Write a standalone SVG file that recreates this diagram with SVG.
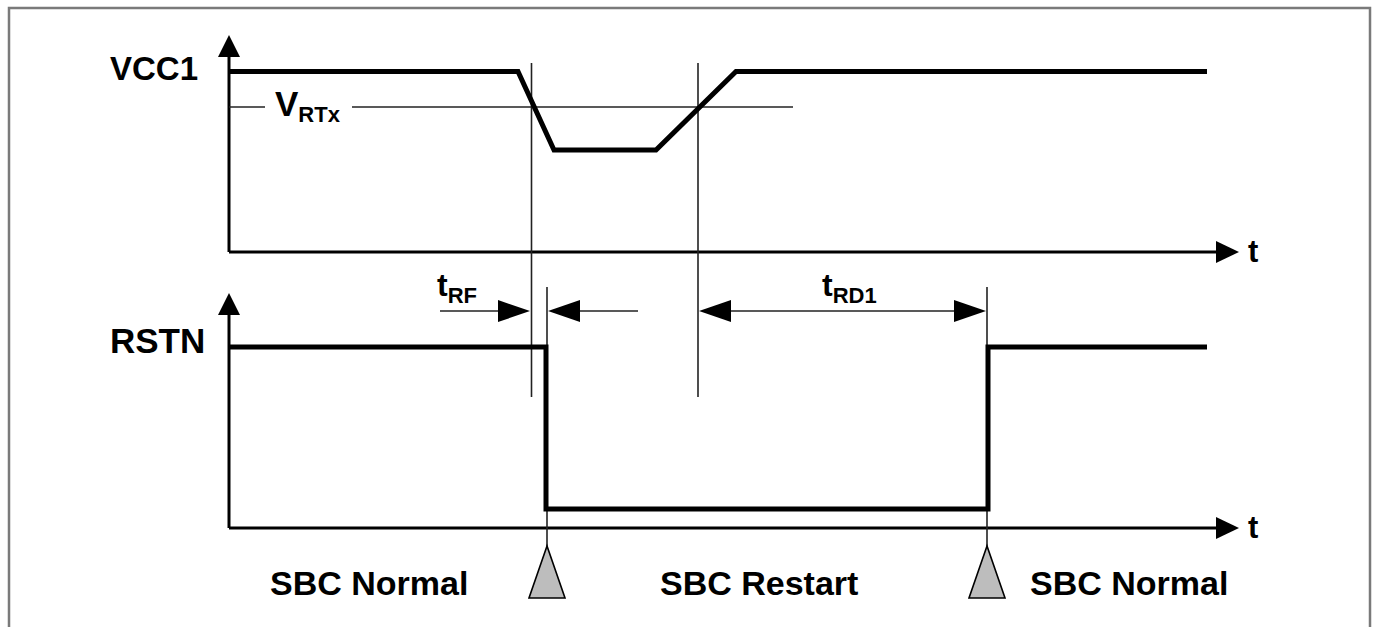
<svg xmlns="http://www.w3.org/2000/svg" width="1378" height="627" viewBox="0 0 1378 627">
<style>
.frame{fill:none;stroke:#7a7a7a;stroke-width:2.5}
.axis{fill:none;stroke:#000;stroke-width:3}
.sig{fill:none;stroke:#000;stroke-width:5;stroke-linejoin:miter}
.thin{fill:none;stroke:#222;stroke-width:1.6}
.head{fill:#000}
.lbl{font-family:"Liberation Sans",Arial,sans-serif;font-weight:bold;fill:#000}
.tri{fill:#bdbdbd;stroke:#000;stroke-width:1.6}
</style>
<rect class="frame" x="9" y="8" width="1361" height="640"/>
<g id="vcc1-axes">
<line class="axis" x1="229" y1="50" x2="229" y2="252"/>
<polygon class="head" points="229,35 218,57 240,57"/>
<line class="axis" x1="229" y1="252" x2="1222" y2="252"/>
<polygon class="head" points="1239,252 1216,241 1216,263"/>
<text class="lbl" x="1248" y="262" font-size="31">t</text>
<text class="lbl" x="110" y="80" font-size="33">VCC1</text>
</g>
<g id="rstn-axes">
<line class="axis" x1="229" y1="308" x2="229" y2="528"/>
<polygon class="head" points="229,293 218,315 240,315"/>
<line class="axis" x1="229" y1="528" x2="1222" y2="528"/>
<polygon class="head" points="1239,528 1216,517 1216,539"/>
<text class="lbl" x="1248" y="538" font-size="31">t</text>
<text class="lbl" x="110" y="353" font-size="35">RSTN</text>
</g>
<g id="connectors">
<line class="thin" x1="229" y1="107" x2="265" y2="107"/>
<line class="thin" x1="352" y1="107" x2="793" y2="107"/>
<line class="thin" x1="531.5" y1="63" x2="531.5" y2="397"/>
<line class="thin" x1="698" y1="63" x2="698" y2="397"/>
<line class="thin" x1="547" y1="287" x2="547" y2="546"/>
<line class="thin" x1="987" y1="287" x2="987" y2="546"/>
<line class="thin" x1="440" y1="311" x2="505" y2="311"/>
<polygon class="head" points="530,311 498,300 498,322"/>
<line class="thin" x1="575" y1="311" x2="638" y2="311"/>
<polygon class="head" points="548,311 580,300 580,322"/>
<line class="thin" x1="720" y1="311" x2="965" y2="311"/>
<polygon class="head" points="699,311 731,300 731,322"/>
<polygon class="head" points="986,311 954,300 954,322"/>
</g>
<g id="vcc1-signal">
<polyline class="sig" points="229,71.5 518,71.5 554,150 656,150 736,71.5 1207,71.5"/>
</g>
<g id="rstn-signal">
<polyline class="sig" points="229,347 546,347 546,509 988,509 988,347 1207,347"/>
</g>
<g id="labels">
<text class="lbl" x="275" y="116" font-size="35" font-weight="normal">V<tspan font-size="22" dy="6" font-weight="bold">RTx</tspan></text>
<text class="lbl" x="437" y="296" font-size="32">t<tspan font-size="22" dy="7">RF</tspan></text>
<text class="lbl" x="822" y="296" font-size="32">t<tspan font-size="22" dy="7">RD1</tspan></text>
</g>
<g id="marker-1">
<polygon class="tri" points="547,546 529,598 565,598"/>
</g>
<g id="marker-2">
<polygon class="tri" points="987,546 969,598 1005,598"/>
</g>
<g id="states">
<text class="lbl" x="270" y="595" font-size="34">SBC Normal</text>
<text class="lbl" x="660" y="595" font-size="34">SBC Restart</text>
<text class="lbl" x="1030" y="595" font-size="34">SBC Normal</text>
</g>
</svg>
